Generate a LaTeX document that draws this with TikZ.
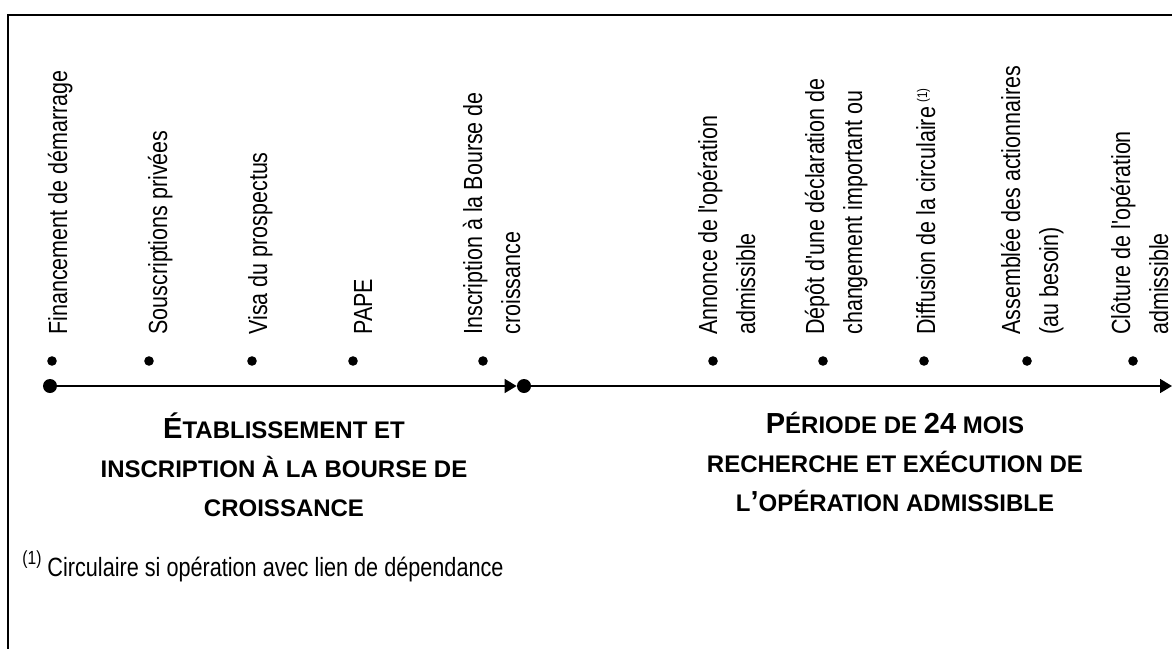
\documentclass[tikz,border=0pt]{standalone}
\usepackage{fontspec}
\setmainfont{Liberation Sans}
\newfontfamily\narrowfont{Liberation Sans}[FakeStretch=0.82]
\usetikzlibrary{arrows.meta,positioning}

\newcommand{\fullcap}[1]{{\fontsize{14.5}{19}\selectfont #1}}

\tikzset{
  event/.style={rotate=90, anchor=base west, align=left, inner sep=0pt,
    font=\narrowfont\fontsize{13.1}{19}\selectfont},
  tick/.style={circle, fill, inner sep=0pt, minimum size=4.8pt},
  milestone/.style={circle, fill, inner sep=0pt, minimum size=7pt},
  phase/.style={align=center, anchor=north, inner sep=0pt,
    font=\bfseries\fontsize{12}{19.5}\selectfont},
  timeline/.style={line width=0.8pt, -{Triangle[length=6pt,width=7pt]}},
}

\begin{document}
\begin{tikzpicture}[x=0.5pt,y=-0.5pt]
\useasboundingbox (0,0) rectangle (1172,648);
% cadre (coupe par la page)
\draw[line width=1.25pt] (8,660) -- (8,15) -- (1180,15);

% ligne du temps
\node[milestone] (start) at (50,386) {};
\node[milestone] (mid) at (524,386) {};
\coordinate (end) at (1172,386);
\draw[timeline] (start.center) -- (mid.west);
\draw[timeline] (mid) -- (end);

% etapes
\node[tick] (t1) at (52,361) {};
\node[tick] (t2) at (149,361) {};
\node[tick] (t3) at (252,361) {};
\node[tick] (t4) at (353,361) {};
\node[tick] (t5) at (483,361) {};
\node[tick] (t6) at (713,361) {};
\node[tick] (t7) at (823,361) {};
\node[tick] (t8) at (924,361) {};
\node[tick] (t9) at (1027,361) {};
\node[tick] (t10) at (1133,361) {};

% (base = ligne du bas pour les libelles sur deux lignes)
\node[event] (financement) at (67,335) {Financement de démarrage};
\node[event] (souscriptions) at (167,335) {Souscriptions privées};
\node[event] (visa) at (267,335) {Visa du prospectus};
\node[event] (pape) at (372,335) {PAPE};
\node[event] (inscription) at (520,335) {Inscription à la Bourse de\\croissance};
\node[event] (annonce) at (755,335) {Annonce de l'opération\\admissible};
\node[event] (depot) at (862,335) {Dépôt d'une déclaration de\\changement important ou};
\node[event] (diffusion) at (935,335) {Diffusion de la circulaire\,{\fontsize{7}{7}\selectfont\raisebox{4pt}{(1)}}};
\node[event] (assemblee) at (1058,335) {Assemblée des actionnaires\\(au besoin)};
\node[event] (cloture) at (1168,335) {Clôture de l'opération\\admissible};

% periodes
\node[phase] (etablissement) at (284,412)
  {\fullcap{É}TABLISSEMENT ET\\INSCRIPTION À LA BOURSE DE\\CROISSANCE};
\node[phase] (periode) at (895,412)
  {\fullcap{P}ÉRIODE DE \fullcap{24} MOIS\\RECHERCHE ET EXÉCUTION DE\\L\fullcap{’}OPÉRATION ADMISSIBLE};

% note
\node[anchor=base west, inner sep=0pt, font=\narrowfont\fontsize{13.2}{16}\selectfont] (note)
  at (22,576) {{\fontsize{9.5}{9.5}\selectfont\raisebox{6pt}{(1)}} Circulaire si opération avec lien de dépendance};
\end{tikzpicture}
\end{document}
